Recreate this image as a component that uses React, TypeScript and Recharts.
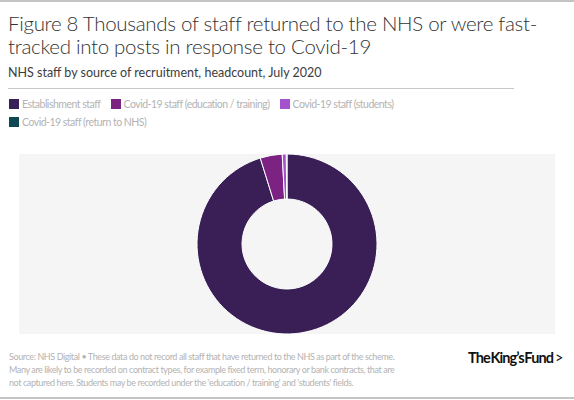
import React from "react";
import { PieChart, Pie, Cell } from "recharts";

// Figura 8: donut com a origem do recrutamento no NHS (julho 2020)
const categorias = [
  "Establishment staff",
  "Covid-19 staff (education / training)",
  "Covid-19 staff (students)",
  "Covid-19 staff (return to NHS)",
];
const headcount = [1230000, 51000, 9500, 1500];
const cores = ["#3a1f57", "#7b2283", "#a552cc", "#0e4852"];

const dados = categorias.map((nome, i) => ({ nome, valor: headcount[i] }));

const notas = [
  "Source: NHS Digital • These data do not record all staff that have returned to the NHS as part of the scheme.",
  "Many are likely to be recorded on contract types, for example fixed term, honorary or bank contracts, that are",
  "not captured here. Students may be recorded under the 'education / training' and 'students' fields.",
];

const cinzaTexto = "#b3b3b3";
const fonte = "'Lato', 'Noto Sans', sans-serif";

export default function App() {
  return (
    <div
      style={{
        position: "absolute",
        left: 0,
        top: 0,
        width: 574,
        height: 400,
        background: "#fff",
        fontFamily: fonte,
        overflow: "hidden",
      }}
    >
      <div style={{ position: "absolute", left: 0, top: 0, width: 574, height: 2, background: "#c4c4c4" }} />
      <div
        style={{
          position: "absolute",
          left: 8,
          top: 12,
          fontSize: 20.5,
          fontWeight: 300,
          lineHeight: "23px",
          color: "#333",
          letterSpacing: -0.3,
          whiteSpace: "nowrap",
        }}
      >
        Figure 8 Thousands of staff returned to the NHS or were fast-
        <br />
        tracked into posts in response to Covid-19
      </div>
      <div
        style={{
          position: "absolute",
          left: 8,
          top: 65,
          fontSize: 12.5,
          color: "#3c3c3c",
          whiteSpace: "nowrap",
        }}
      >
        NHS staff by source of recruitment, headcount, July 2020
      </div>
      <div style={{ position: "absolute", left: 8, top: 88, width: 506, height: 1, background: "#c8c8c8" }} />

      <div
        style={{
          position: "absolute",
          left: 9,
          top: 97,
          width: 500,
          display: "flex",
          flexWrap: "wrap",
          rowGap: 4,
          fontSize: 10.5,
          letterSpacing: -0.5,
          color: cinzaTexto,
        }}
      >
        {categorias.map((c, i) => (
          <div key={c} style={{ display: "flex", alignItems: "center", marginRight: 10, height: 14, whiteSpace: "nowrap" }}>
            <span style={{ width: 10, height: 10, background: cores[i], marginRight: 3, display: "inline-block" }} />
            {c}
          </div>
        ))}
      </div>

      <div style={{ position: "absolute", left: 19, top: 154, width: 536, height: 180, background: "#f5f5f5" }}>
        <PieChart width={536} height={180} margin={{ top: 0, right: 0, bottom: 0, left: 0 }}>
          <Pie
            data={dados}
            dataKey="valor"
            nameKey="nome"
            cx={268}
            cy={90}
            innerRadius={45}
            outerRadius={90}
            startAngle={90}
            endAngle={-270}
            stroke="#ffffff"
            strokeWidth={1}
            isAnimationActive={false}
          >
            {dados.map((d, i) => (
              <Cell key={d.nome} fill={cores[i]} />
            ))}
          </Pie>
        </PieChart>
      </div>

      <div
        style={{
          position: "absolute",
          left: 9,
          top: 350,
          fontSize: 9,
          lineHeight: "13px",
          letterSpacing: -0.4,
          color: cinzaTexto,
          whiteSpace: "nowrap",
        }}
      >
        {notas.map((n) => (
          <div key={n}>{n}</div>
        ))}
      </div>

      <div
        style={{
          position: "absolute",
          left: 468,
          top: 349,
          fontSize: 14.5,
          fontWeight: 700,
          color: "#111",
          letterSpacing: -0.9,
          wordSpacing: -2,
          whiteSpace: "nowrap",
        }}
      >
        The King’s Fund
        <span style={{ fontWeight: 400, marginLeft: 2 }}>&gt;</span>
      </div>
      <div style={{ position: "absolute", left: 0, top: 397, width: 574, height: 2, background: "#c4c4c4" }} />
    </div>
  );
}
